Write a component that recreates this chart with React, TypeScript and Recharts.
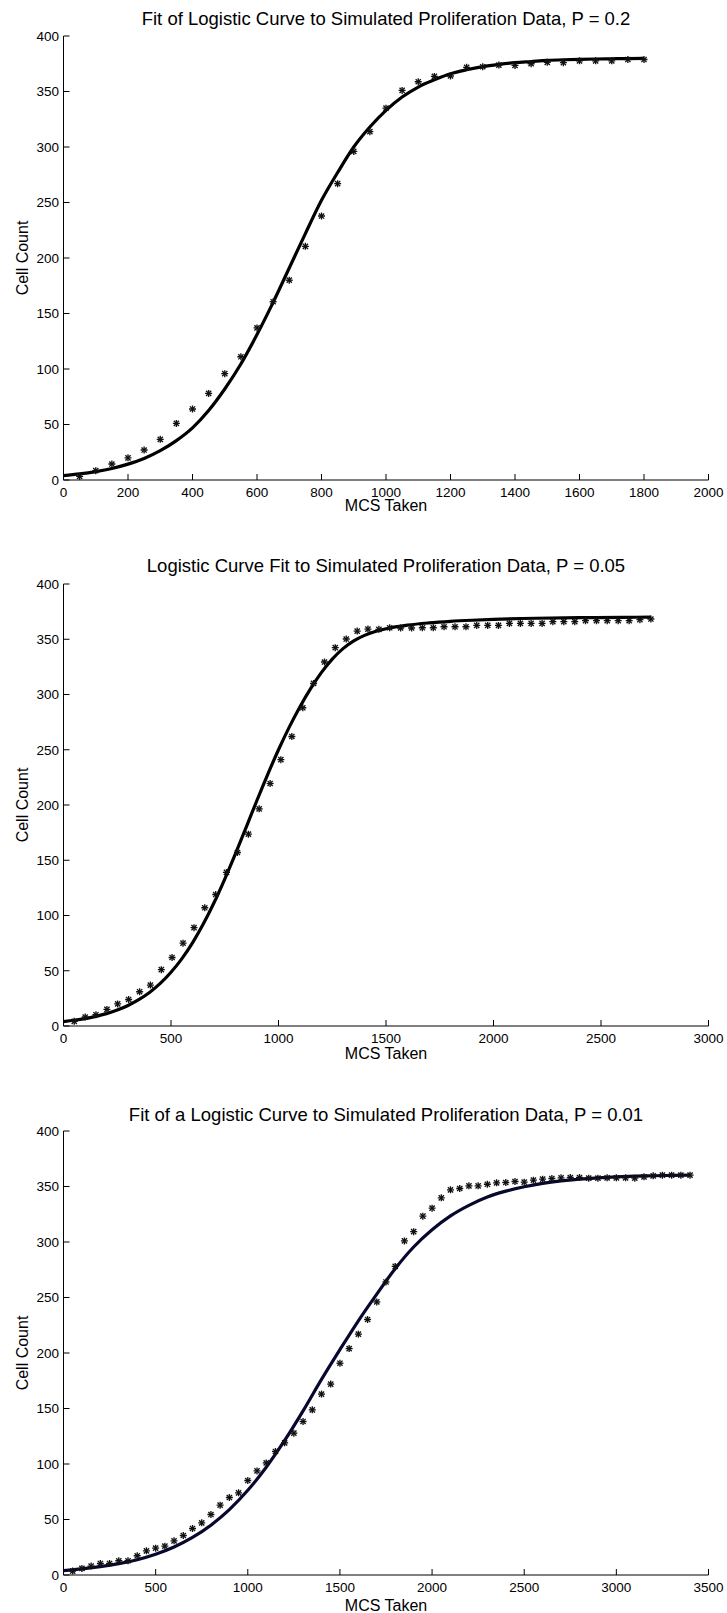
import React from 'react';
import { ComposedChart, Scatter, Line, XAxis, YAxis } from 'recharts';

const FONT = '"Liberation Sans", Arial, Helvetica, sans-serif';

// P = 0.2 : simulated counts
const mcs1 = [50, 100, 150, 200, 250, 300, 350, 400, 450, 500, 550, 600, 650, 700, 750, 800, 850, 900,
  950, 1000, 1050, 1100, 1150, 1200, 1250, 1300, 1350, 1400, 1450, 1500, 1550, 1600, 1650, 1700, 1750, 1800];
const cells1 = [3.2, 8.4, 14.4, 20, 27, 36.6, 51, 64, 78, 95.8, 111, 137, 160.6, 180, 210.5, 237.8, 267, 296,
  313.8, 335, 351, 358.8, 363.6, 364, 371.8, 372.3, 373.8, 373.5, 375, 376.3, 376, 377.6, 377.6, 377.6, 378.8, 378.8];
// P = 0.2 : fitted logistic curve
const fitMcs1 = [0, 50, 100, 150, 200, 250, 300, 350, 400, 450, 500, 550, 600, 650, 700, 750, 800, 850, 900,
  950, 1000, 1050, 1100, 1150, 1200, 1250, 1300, 1350, 1400, 1450, 1500, 1550, 1600, 1650, 1700, 1750, 1800];
const fitCells1 = [4, 5.5, 7.6, 10.4, 14.3, 19.4, 26.4, 35.5, 47, 62.6, 82, 104.5, 131, 160, 191, 222, 252, 277, 300,
  318, 333, 345, 354, 360.5, 366, 369.6, 372.4, 374.4, 376, 377, 378, 378.6, 379, 379.3, 379.5, 379.7, 379.8];

// P = 0.05 : simulated counts
const mcs2 = [50, 101, 151, 202, 252, 303, 354, 404, 455, 505, 556, 607, 657, 708, 758, 809, 860, 910, 961, 1011,
  1062, 1113, 1163, 1214, 1264, 1315, 1366, 1416, 1467, 1517, 1568, 1619, 1669, 1720, 1770, 1821, 1872, 1922, 1973,
  2023, 2074, 2125, 2175, 2226, 2276, 2327, 2378, 2428, 2479, 2529, 2580, 2631, 2681, 2732];
const cells2 = [4.2, 8.1, 10.2, 15, 20, 24, 31, 37, 51, 62, 75, 89, 107, 119, 139, 157, 173.6, 196.5, 219.5, 241,
  262, 288, 310, 329.4, 342.4, 350.2, 357.4, 359.2, 359, 360.4, 360.2, 360.2, 360.4, 360.4, 361.3, 361.3, 361.3, 362.5,
  362.5, 362.5, 364.3, 364.3, 364.3, 364.3, 365.9, 365.9, 365.9, 366.8, 366.8, 366.8, 366.8, 366.8, 367.7, 368.3];
// P = 0.05 : fitted logistic curve
const fitMcs2 = [0, 50, 100, 150, 200, 250, 300, 350, 400, 450, 500, 550, 600, 650, 700, 750, 800, 850, 900, 950,
  1000, 1050, 1100, 1150, 1200, 1250, 1300, 1350, 1400, 1450, 1500, 1600, 1700, 1800, 1900, 2000, 2200, 2400, 2600, 2732];
const fitCells2 = [4, 5.2, 6.7, 8.7, 11.2, 14.4, 18.6, 23.8, 30.3, 38.5, 48.6, 60.7, 75.2, 92.2, 111.5, 133, 156, 180,
  204.3, 227.8, 250, 270.5, 289, 305.5, 320, 332, 341.5, 348.5, 353.5, 357, 359.5, 362.8, 364.8, 366.2, 367.2, 368,
  369, 369.5, 369.8, 370];

// P = 0.01 : simulated counts
const mcs3 = [50, 100, 150, 200, 250, 300, 350, 400, 450, 500, 550, 600, 650, 700, 750, 800, 850, 900, 950, 1000,
  1050, 1100, 1150, 1200, 1250, 1300, 1350, 1400, 1450, 1500, 1550, 1600, 1650, 1700, 1750, 1800, 1850, 1900, 1950,
  2000, 2050, 2100, 2150, 2200, 2250, 2300, 2350, 2400, 2450, 2500, 2550, 2600, 2650, 2700, 2750, 2800, 2850, 2900,
  2950, 3000, 3050, 3100, 3150, 3200, 3250, 3300, 3350, 3400];
const cells3 = [3.5, 5.9, 8, 10.4, 10.4, 12.8, 12.8, 17.3, 21.8, 24.2, 26, 30.8, 35.6, 41.9, 47, 54.5, 62.9, 69.8,
  74, 85.1, 93.8, 101, 111.3, 119.1, 127.8, 138.3, 148.8, 163, 172, 190.8, 204, 217, 230.2, 246, 264, 278, 301, 309.3,
  323.3, 330.5, 339.8, 347, 348.2, 350.6, 350.6, 352, 353.3, 353.6, 354.5, 353.9, 355.7, 356.6, 357.2, 357.8, 358.1,
  358.1, 357.5, 357.5, 357.8, 357.8, 357.8, 357.5, 358.7, 359.6, 360.2, 360.2, 360.2, 360.2];
// P = 0.01 : fitted logistic curve
const fitMcs3 = [0, 100, 200, 300, 400, 500, 600, 700, 800, 900, 1000, 1100, 1200, 1300, 1400, 1500, 1600, 1700,
  1800, 1900, 2000, 2100, 2200, 2300, 2400, 2500, 2600, 2700, 2800, 2900, 3000, 3100, 3200, 3300, 3400];
const fitCells3 = [4, 5.5, 7.5, 10.2, 13.8, 18.7, 25.2, 33.8, 44.9, 58.9, 76.3, 97.1, 121.2, 147.9, 176.2, 203, 229,
  253, 276, 295.5, 311, 323.5, 333, 340.5, 345.8, 349.8, 352.8, 355, 356.6, 357.8, 358.7, 359.3, 359.7, 360, 360.3];

const cellTicks = [0, 50, 100, 150, 200, 250, 300, 350, 400];
const mcsTicks1 = [0, 200, 400, 600, 800, 1000, 1200, 1400, 1600, 1800, 2000];
const mcsTicks2 = [0, 500, 1000, 1500, 2000, 2500, 3000];
const mcsTicks3 = [0, 500, 1000, 1500, 2000, 2500, 3000, 3500];

const toPoints = (xs: number[], ys: number[]) => xs.map((x, i) => ({ x, y: ys[i] }));

function Asterisk(props: any) {
  const { cx, cy } = props;
  if (cx == null || cy == null) return null;
  const r = 3.5;
  const d = 2.6;
  return (
    <g stroke="#111" strokeWidth={1.35}>
      <line x1={cx} y1={cy - r} x2={cx} y2={cy + r} />
      <line x1={cx - r} y1={cy} x2={cx + r} y2={cy} />
      <line x1={cx - d} y1={cy - d} x2={cx + d} y2={cy + d} />
      <line x1={cx - d} y1={cy + d} x2={cx + d} y2={cy - d} />
    </g>
  );
}

interface PanelProps {
  plotTop: number;
  plotH: number;
  title: string;
  titleGap: number;
  xLabelGap: number;
  xMax: number;
  xTicks: number[];
  points: { x: number; y: number }[];
  fit: { x: number; y: number }[];
  lineColor: string;
}

const MARGIN_TOP = 36;
const AXIS_H = 40;

function Panel({ plotTop, plotH, title, titleGap, xLabelGap, xMax, xTicks, points, fit, lineColor }: PanelProps) {
  const chartH = MARGIN_TOP + plotH + AXIS_H;
  const axisY = MARGIN_TOP + plotH;
  const tickStyle = { fontSize: 13.5, fill: '#000', fontFamily: FONT };
  return (
    <div style={{ position: 'absolute', left: 0, top: plotTop - MARGIN_TOP, width: 727, height: chartH }}>
      <ComposedChart width={727} height={chartH} margin={{ top: MARGIN_TOP, right: 18.5, bottom: 0, left: 0 }}>
        <XAxis
          type="number"
          dataKey="x"
          domain={[0, xMax]}
          ticks={xTicks}
          interval={0}
          height={AXIS_H}
          tickSize={-6}
          tickMargin={13.3}
          tick={tickStyle}
          axisLine={{ stroke: '#000' }}
          tickLine={{ stroke: '#000' }}
          allowDataOverflow
        />
        <YAxis
          type="number"
          dataKey="y"
          domain={[0, 400]}
          ticks={cellTicks}
          interval={0}
          width={63.5}
          tickSize={-6}
          tickMargin={10.5}
          tick={tickStyle}
          axisLine={{ stroke: '#000' }}
          tickLine={{ stroke: '#000' }}
          allowDataOverflow
        />
        <Scatter data={points} shape={<Asterisk />} isAnimationActive={false} />
        <Line
          data={fit}
          dataKey="y"
          type="monotone"
          stroke={lineColor}
          strokeWidth={3.2}
          dot={false}
          activeDot={false}
          isAnimationActive={false}
        />
      </ComposedChart>
      <svg
        width={727}
        height={chartH}
        style={{ position: 'absolute', left: 0, top: 0, pointerEvents: 'none', overflow: 'visible' }}
        fontFamily={FONT}
      >
        <text x={386} y={MARGIN_TOP - titleGap} textAnchor="middle" fontSize={18.5} fill="#000">
          {title}
        </text>
        <text
          transform={`translate(28.3, ${MARGIN_TOP + plotH / 2}) rotate(-90)`}
          textAnchor="middle"
          fontSize={16}
          fill="#000"
        >
          Cell Count
        </text>
        <text x={386} y={axisY + xLabelGap} textAnchor="middle" fontSize={16} fill="#000">
          MCS Taken
        </text>
      </svg>
    </div>
  );
}

export default function App() {
  return (
    <div style={{ position: 'absolute', left: 0, top: 0, width: 727, height: 1613, background: '#fff', overflow: 'hidden' }}>
      <Panel
        plotTop={35.5}
        plotH={444}
        title="Fit of Logistic Curve to Simulated Proliferation Data, P = 0.2"
        titleGap={11.5}
        xLabelGap={31}
        xMax={2000}
        xTicks={mcsTicks1}
        points={toPoints(mcs1, cells1)}
        fit={toPoints(fitMcs1, fitCells1)}
        lineColor="#000"
      />
      <Panel
        plotTop={584}
        plotH={442}
        title="Logistic Curve Fit to Simulated Proliferation Data, P = 0.05"
        titleGap={12}
        xLabelGap={33}
        xMax={3000}
        xTicks={mcsTicks2}
        points={toPoints(mcs2, cells2)}
        fit={toPoints(fitMcs2, fitCells2)}
        lineColor="#000"
      />
      <Panel
        plotTop={1130.5}
        plotH={444}
        title="Fit of a Logistic Curve to Simulated Proliferation Data, P = 0.01"
        titleGap={10.5}
        xLabelGap={35.5}
        xMax={3500}
        xTicks={mcsTicks3}
        points={toPoints(mcs3, cells3)}
        fit={toPoints(fitMcs3, fitCells3)}
        lineColor="#08082e"
      />
    </div>
  );
}
